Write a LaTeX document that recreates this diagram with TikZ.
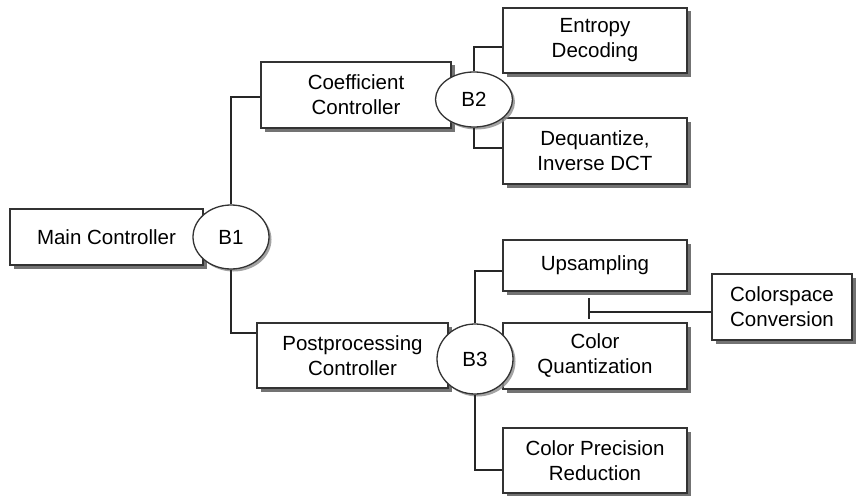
\documentclass[tikz,border=0pt]{standalone}
\usepackage{fontspec}
\setmainfont{Liberation Sans}
\usetikzlibrary{shadows,shapes.geometric}

\tikzset{
  block/.style={draw=black!80, line width=1.3pt, fill=white, align=center,
    inner sep=0pt, drop shadow={shadow xshift=3.5pt, shadow yshift=-3.5pt, fill=black!55, opacity=1}},
  bus/.style={draw=black!80, line width=1.3pt, fill=white, ellipse, inner sep=0pt,
    drop shadow={shadow xshift=2.5pt, shadow yshift=-2.5pt, fill=black!45, opacity=0.8}},
  wire/.style={black!85, line width=1.2pt}
}

\begin{document}
\begin{tikzpicture}[x=1pt, y=-1pt, font=\fontsize{20.5}{25}\selectfont]
\useasboundingbox (0,0) rectangle (856,495);

\node[block, minimum width=193pt, minimum height=56pt] (main) at (106.5, 237) {Main Controller};
\node[block, minimum width=190pt, minimum height=66pt] (coef) at (356, 95) {Coefficient\\Controller};
\node[block, minimum width=191pt, minimum height=65pt] (post) at (352.5, 355.5) {Postprocessing\\Controller};

\node[block, minimum width=184pt, minimum height=65pt] (entropy) at (595, 40.5) {Entropy\\Decoding};
\node[block, minimum width=184pt, minimum height=66pt] (dequant) at (595, 151) {Dequantize,\\Inverse DCT};
\node[block, minimum width=184pt, minimum height=51pt] (upsamp) at (595, 265.5) {Upsampling};
\node[block, minimum width=184pt, minimum height=66pt] (quant) at (595, 356) {Color\\Quantization};
\node[block, minimum width=184pt, minimum height=65pt] (precis) at (595, 460.5) {Color Precision\\Reduction};
\node[block, minimum width=140pt, minimum height=66pt] (cspace) at (782, 307) {Colorspace\\Conversion};

\node[bus, minimum width=76pt, minimum height=64pt] (b1) at (231, 237) {B1};
\node[bus, minimum width=77pt, minimum height=55pt] (b2) at (474, 99.5) {B2};
\node[bus, minimum width=76pt, minimum height=70pt] (b3) at (475, 359) {B3};

\draw[wire] (b1.north) |- ([yshift=-2pt]coef.west);
\draw[wire] (b1.south) |- ([yshift=22.5pt]post.west);

\draw[wire] (b2.north) |- ([yshift=-6.5pt]entropy.west);
\draw[wire] (b2.south) |- ([yshift=3pt]dequant.west);

\draw[wire] (b3.north) |- ([yshift=-5.5pt]upsamp.west);
\draw[wire] (b3.south) |- ([yshift=-9.5pt]precis.west);

\coordinate (tee) at (589, 312);
\draw[wire] ([yshift=-5pt]cspace.west) -- (tee);
\draw[wire] ([yshift=14pt]tee) -- ([yshift=-7pt]tee);
\end{tikzpicture}
\end{document}
